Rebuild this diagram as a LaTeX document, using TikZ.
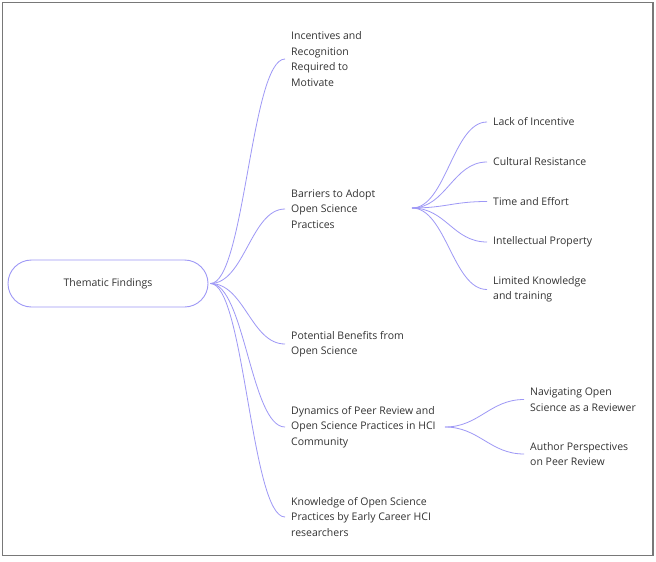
\documentclass[tikz,border=0pt]{standalone}
\usepackage{fontspec}
\setmainfont{Open Sans}
\usetikzlibrary{calc}
\definecolor{branch}{RGB}{158,152,246}
\definecolor{ink}{RGB}{51,51,51}
\definecolor{framegray}{RGB}{120,120,120}
\tikzset{
  topic/.style={anchor=west, align=left, inner xsep=6pt, inner ysep=0pt,
    text=ink, font=\fontsize{10.5pt}{15.5pt}\selectfont},
  rootbox/.style={draw=branch, line width=0.9pt, rounded corners=23.5pt,
    minimum width=200pt, minimum height=47pt, text=ink,
    font=\fontsize{10.5pt}{15.5pt}\selectfont},
  link/.style={draw=branch, line width=0.8pt},
}
% smooth branch from a hub to the west side of a topic
\newcommand{\branchto}[2]{%
  \draw[link] (#1) .. controls ($(#1)+(34pt,0)$) and ($(#2.west)-(34pt,0)$) .. (#2.west);}
\begin{document}
\begin{tikzpicture}[x=1pt,y=-1pt]
\useasboundingbox (0,0) rectangle (656,562);
\fill[white] (0,0) rectangle (656,562);
\draw[framegray, line width=1.6pt] (2.5,2.5) rectangle (653,555.5);

\node[rootbox] (root) at (108,283.5) {Thematic Findings};

\node[topic] (incent) at (285,59) {Incentives and\\Recognition\\Required to\\Motivate};
\node[topic] (barr) at (285,209) {Barriers to Adopt\\Open Science\\Practices};
\node[topic] (benef) at (285,344) {Potential Benefits from\\Open Science};
\node[topic] (dyn) at (285,427) {Dynamics of Peer Review and\\Open Science Practices in HCI\\Community};
\node[topic] (know) at (285,517) {Knowledge of Open Science\\Practices by Early Career HCI\\researchers};

\node[topic] (lack) at (487,122) {Lack of Incentive};
\node[topic] (cult) at (487,162) {Cultural Resistance};
\node[topic] (time) at (487,201.5) {Time and Effort};
\node[topic] (ip) at (487,242) {Intellectual Property};
\node[topic] (limit) at (487,289.5) {Limited Knowledge\\and training};

\node[topic] (navig) at (524,399.5) {Navigating Open\\Science as a Reviewer};
\node[topic] (author) at (524,454) {Author Perspectives\\on Peer Review};

\coordinate (roothub) at ($(root.east)+(2,0)$);
\coordinate (barrhub) at (412,208);
\coordinate (dynhub) at (445,427);

\foreach \t in {incent,barr,benef,dyn,know} {\branchto{roothub}{\t}}
\foreach \t in {lack,cult,time,ip,limit} {\branchto{barrhub}{\t}}
\foreach \t in {navig,author} {\branchto{dynhub}{\t}}
\end{tikzpicture}
\end{document}
